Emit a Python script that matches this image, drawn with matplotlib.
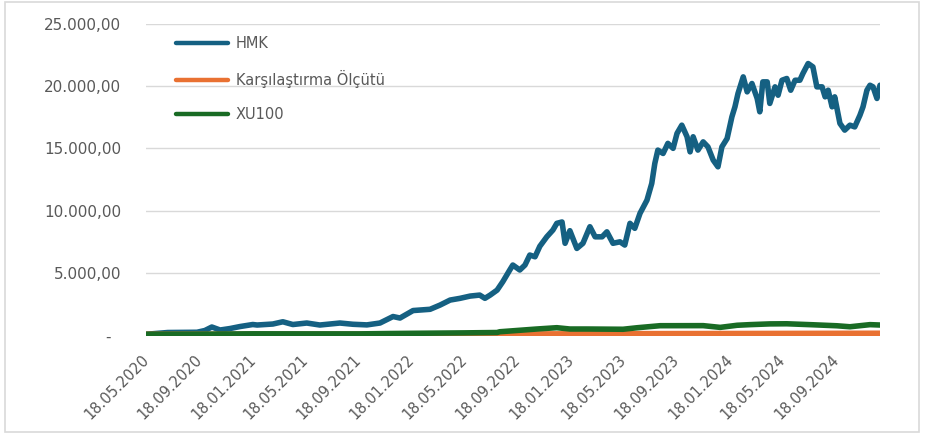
import matplotlib
matplotlib.use("Agg")
import matplotlib.pyplot as plt
import matplotlib.dates as mdates
from matplotlib.patches import Rectangle
from matplotlib.ticker import FuncFormatter
import pandas as pd

# HMK fund index (base 100 on 18.05.2020)
hmk_dates = [
    "2020-05-18", "2020-06-15", "2020-07-06", "2020-09-11", "2020-09-29", "2020-10-15",
    "2020-11-03", "2020-11-26", "2020-12-19", "2021-01-17", "2021-01-27", "2021-03-04",
    "2021-03-27", "2021-04-19", "2021-05-21", "2021-06-20", "2021-08-05", "2021-09-04",
    "2021-10-06", "2021-11-05", "2021-12-05", "2021-12-21", "2022-01-20", "2022-02-28",
    "2022-03-23", "2022-04-15", "2022-05-08", "2022-05-31", "2022-06-22", "2022-07-04",
    "2022-07-16", "2022-08-01", "2022-08-14", "2022-08-30", "2022-09-06", "2022-09-22",
    "2022-10-04", "2022-10-15", "2022-10-27", "2022-11-07", "2022-11-23", "2022-12-07",
    "2022-12-16", "2022-12-28", "2023-01-04", "2023-01-15", "2023-01-31", "2023-02-14",
    "2023-03-02", "2023-03-14", "2023-03-30", "2023-04-10", "2023-04-24", "2023-05-10",
    "2023-05-21", "2023-06-02", "2023-06-13", "2023-06-25", "2023-07-11", "2023-07-22",
    "2023-07-29", "2023-08-05", "2023-08-17", "2023-08-28", "2023-09-09", "2023-09-18",
    "2023-09-29", "2023-10-11", "2023-10-18", "2023-10-25", "2023-11-05", "2023-11-17",
    "2023-11-28", "2023-12-10", "2023-12-21", "2023-12-30", "2024-01-11", "2024-01-22",
    "2024-01-29", "2024-02-05", "2024-02-17", "2024-02-26", "2024-03-08", "2024-03-20",
    "2024-03-26", "2024-04-02", "2024-04-12", "2024-04-18", "2024-04-30", "2024-05-07",
    "2024-05-16", "2024-05-27", "2024-06-05", "2024-06-15", "2024-06-26", "2024-07-03",
    "2024-07-15", "2024-07-26", "2024-08-04", "2024-08-16", "2024-08-23", "2024-08-30",
    "2024-09-08", "2024-09-14", "2024-09-26", "2024-10-07", "2024-10-19", "2024-10-30",
    "2024-11-11", "2024-11-18", "2024-11-27", "2024-12-04", "2024-12-11", "2024-12-20",
    "2024-12-27",
]
hmk_values = [
    100, 180, 240, 260, 400, 680,
    440, 560, 720, 880, 840, 920,
    1100, 880, 1000, 840, 1000, 900,
    850, 1000, 1520, 1400, 2000, 2100,
    2440, 2840, 2980, 3160, 3240, 2980,
    3240, 3640, 4310, 5250, 5650, 5250,
    5650, 6450, 6310, 7150, 7910, 8450,
    8990, 9100, 7390, 8400, 6980, 7390,
    8720, 7910, 7910, 8310, 7390, 7510,
    7250, 8990, 8590, 9790, 10850, 12190,
    13790, 14860, 14590, 15400, 15000, 16200,
    16860, 15930, 14720, 15930, 14860, 15520,
    15120, 14060, 13520, 15120, 15790, 17530,
    18330, 19400, 20730, 19530, 20200, 19000,
    17930, 20330, 20330, 18600, 19930, 19260,
    20460, 20600, 19660, 20460, 20460, 21000,
    21800, 21530, 19930, 19930, 19130, 19660,
    18330, 19130, 17000, 16460, 16860, 16720,
    17660, 18330, 19660, 20060, 19930, 19000,
    20060,
]

# benchmark index
bench_dates = [
    "2020-05-18", "2021-01-18", "2021-09-18", "2022-01-18", "2022-08-07",
    "2022-10-31", "2023-05-20", "2023-06-20", "2024-01-15", "2024-12-27",
]
bench_values = [100, 103, 108, 112, 120, 128, 145, 150, 160, 180]

# BIST 100 (base 100)
xu100_dates = [
    "2020-05-18", "2020-09-18", "2021-01-18", "2021-05-18", "2021-09-18",
    "2021-12-01", "2022-01-18", "2022-05-18", "2022-08-01", "2022-08-07",
    "2022-10-31", "2022-12-16", "2023-01-15", "2023-02-23", "2023-05-17",
    "2023-06-18", "2023-08-10", "2023-11-17", "2023-12-26", "2024-02-03",
    "2024-03-03", "2024-04-18", "2024-05-27", "2024-07-26", "2024-09-19",
    "2024-10-19", "2024-12-04", "2024-12-27",
]
xu100_values = [
    100, 105, 135, 130, 130,
    160, 175, 210, 240, 300,
    520, 625, 520, 520, 500,
    620, 785, 790, 650, 820,
    870, 930, 940, 860, 780,
    700, 870, 840,
]

W, H = 929, 434
fig = plt.figure(figsize=(W / 100, H / 100), dpi=100)
ax = fig.add_axes([146.5 / W, 1 - 335.5 / H, (880 - 146.5) / W, (335.5 - 23.6) / H])

# light frame around the whole chart
fig.patches.append(Rectangle((5 / W, 1 - 432 / H), 914 / W, 430 / H,
                             transform=fig.transFigure, fill=False,
                             edgecolor="#d9d9d9", lw=1.2))

series = [
    (hmk_dates, hmk_values, "#156082", "HMK"),
    (bench_dates, bench_values, "#e97132", "Karşılaştırma Ölçütü"),
    (xu100_dates, xu100_values, "#196b24", "XU100"),
]
for d, v, c, name in series:
    ax.plot(pd.to_datetime(d), v, color=c, lw=4.0, label=name,
            solid_joinstyle="round", solid_capstyle="round")

ax.set_ylim(0, 25000)
ax.set_xlim(pd.Timestamp(hmk_dates[0]), pd.Timestamp(hmk_dates[-1]))
ax.set_yticks(range(0, 25001, 5000))


def tr_fmt(v, pos):
    if v == 0:
        return "-  "
    s = f"{v:,.2f}"
    return s.replace(",", "X").replace(".", ",").replace("X", ".")


ax.yaxis.set_major_formatter(FuncFormatter(tr_fmt))
ax.xaxis.set_major_locator(mdates.MonthLocator(bymonth=[1, 5, 9], bymonthday=18))
ax.xaxis.set_major_formatter(mdates.DateFormatter("%d.%m.%Y"))

ax.grid(axis="y", color="#d9d9d9", lw=1.0)
ax.set_axisbelow(True)
for s in ax.spines.values():
    s.set_visible(False)
ax.tick_params(axis="both", length=0, labelcolor="#595959")
ax.tick_params(axis="y", pad=18, labelsize=11)
ax.tick_params(axis="x", pad=16, labelsize=10.5)
for lbl in ax.get_xticklabels():
    lbl.set_rotation(45)
    lbl.set_ha("right")
    lbl.set_va("center")
    lbl.set_rotation_mode("anchor")

leg = ax.legend(loc="upper left", bbox_to_anchor=(0.040, 0.960), frameon=False,
                borderpad=0, borderaxespad=0, fontsize=10.5, handlelength=3.6,
                handletextpad=0.5, labelspacing=1.3)
for t in leg.get_texts():
    t.set_color("#595959")
for h in leg.get_lines():
    h.set_linewidth(3.2)

fig.savefig("out.png", dpi=100)
